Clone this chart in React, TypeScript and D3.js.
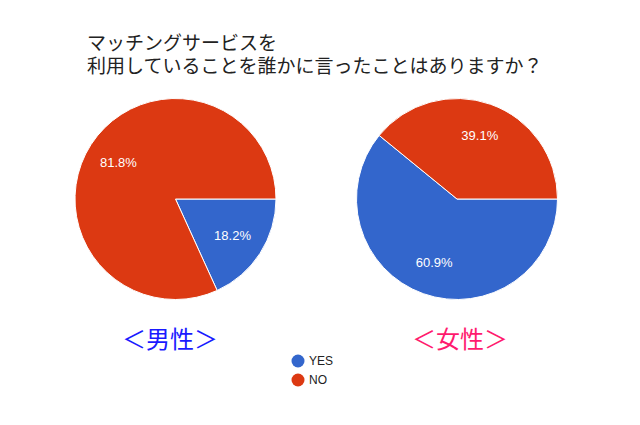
import * as d3 from "d3";

// ── Data ─────────────────────────────────────────────────────────────

const categories = ["YES", "NO"];
const maleValues = [18.2, 81.8];
const femaleValues = [60.9, 39.1];
const titleLines = ["マッチングサービスを", "利用していることを誰かに言ったことはありますか？"];
const pieTitles = ["＜男性＞", "＜女性＞"];

const W = 640;
const H = 425;
const R = 100.5;
const COLORS = ["#3366cc", "#dc3912"];
const TITLE_COLORS = ["#1a1aff", "#ff1a6e"];
const FONT = "Arial, 'Liberation Sans', 'Noto Sans CJK JP', sans-serif";
const JP_FONT = "'Noto Sans CJK JP', sans-serif";

const color = d3.scaleOrdinal<string, string>().domain(categories).range(COLORS);

const pie = d3
  .pie<number>()
  .sort(null)
  .startAngle(Math.PI / 2)
  .endAngle(Math.PI / 2 + Math.PI * 2);

const arc = d3.arc<d3.PieArcDatum<number>>().innerRadius(0).outerRadius(R);
const labelArc = d3
  .arc<d3.PieArcDatum<number>>()
  .innerRadius(R * 0.675)
  .outerRadius(R * 0.675);

function Pie({ values, cx, cy }: { values: number[]; cx: number; cy: number }) {
  const slices = pie(values);
  return (
    <g transform={`translate(${cx},${cy})`}>
      {slices.map((s, i) => (
        <path
          key={categories[i]}
          d={arc(s) || ""}
          fill={color(categories[i])}
          stroke="#ffffff"
          strokeWidth={1}
        />
      ))}
      {slices.map((s, i) => {
        const [x, y] = labelArc.centroid(s);
        return (
          <text
            key={categories[i]}
            x={x}
            y={y}
            dy="0.35em"
            textAnchor="middle"
            fill="#ffffff"
            fontSize={13}
            fontFamily={FONT}
          >
            {`${values[i].toFixed(1)}%`}
          </text>
        );
      })}
    </g>
  );
}

export default function App() {
  return (
    <svg
      width={W}
      height={H}
      style={{ position: "absolute", left: 0, top: 0, background: "#ffffff" }}
    >
      {/* two-line title in one text element */}
      <text x={87} y={50} fontSize={19} fill="#222222" fontFamily={JP_FONT}>
        {titleLines.map((t, i) => (
          <tspan key={t} x={87} dy={i === 0 ? 0 : 23}>
            {t}
          </tspan>
        ))}
      </text>

      <Pie values={maleValues} cx={175.5} cy={199} />
      <Pie values={femaleValues} cx={457} cy={199} />

      {pieTitles.map((t, i) => (
        <text
          key={t}
          x={i === 0 ? 170 : 460}
          y={348}
          textAnchor="middle"
          fontSize={24}
          fill={TITLE_COLORS[i]}
          fontFamily={JP_FONT}
        >
          {t}
        </text>
      ))}

      {categories.map((c, i) => (
        <g key={c} transform={`translate(298,${361 + i * 19})`}>
          <circle r={6.5} fill={color(c)} />
          <text x={11} dy="0.35em" fontSize={12} fill="#222222" fontFamily={FONT}>
            {c}
          </text>
        </g>
      ))}
    </svg>
  );
}
